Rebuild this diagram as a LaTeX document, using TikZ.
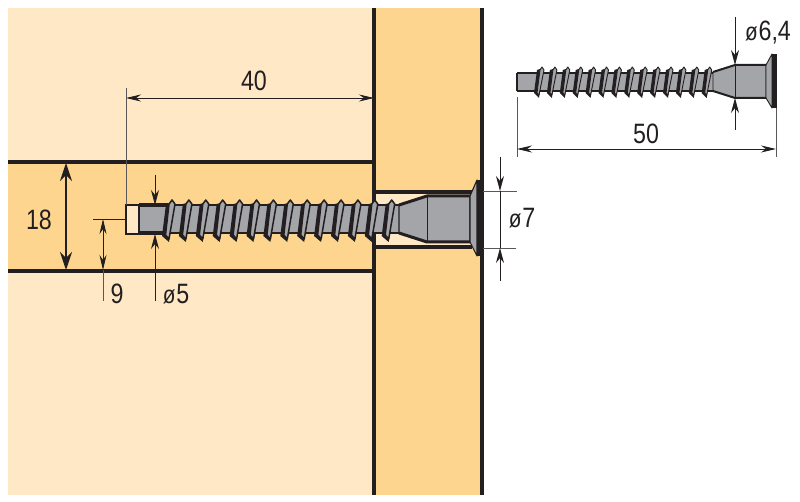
\documentclass[tikz,border=0pt]{standalone}
\usepackage{fontspec}
\setmainfont{Liberation Sans}
\usetikzlibrary{arrows.meta}
\definecolor{lightwood}{HTML}{FEE8C6}
\definecolor{darkwood}{HTML}{FDD58E}
\definecolor{steel}{HTML}{A3A5A9}
\definecolor{ink}{HTML}{231F20}
\newcommand{\smalldia}{{\fontsize{25}{25}\selectfont ø}}
\tikzset{
  x=1pt,y=-1pt,
  wood/.style={draw=ink,line width=3.1pt},
  dimline/.style={draw=ink,line width=0.8pt},
  extline/.style={draw=ink!75,line width=0.8pt},
  dimarrow/.style={dimline,{Stealth[length=15pt,width=7pt]}-{Stealth[length=15pt,width=7pt]}},
  headarrow/.style={dimline,-{Stealth[length=15pt,width=8pt]}},
  bigarrow/.style={draw=ink,line width=1.6pt,{Stealth[length=18pt,width=12pt]}-{Stealth[length=18pt,width=12pt]}},
  label/.style={inner sep=0pt,text=ink,font=\fontsize{28}{28}\selectfont,xscale=.83},
  steelpart/.style={fill=steel,draw=ink,line width=1.1pt,line join=round},
  steelthin/.style={fill=steel,draw=ink,line width=.9pt,line join=round},
  thread/.style={fill=steel,draw=ink,line width=1.5pt,line join=round},
}
\begin{document}
\begin{tikzpicture}
\useasboundingbox (0,0) rectangle (800,502);
% wood panels
\fill[lightwood] (8,8) rectangle (374,495);
\fill[darkwood] (8,162) rectangle (374,271);
\fill[darkwood] (374,8) rectangle (482,495);
\fill[lightwood] (374,192) rectangle (472,247);
\fill[lightwood] (126,205) rectangle (140,234);
\draw[wood] (8,162) -- (374,162);
\draw[wood] (8,271) -- (374,271);
\draw[wood] (374,192) -- (472,192);
\draw[wood] (374,247) -- (472,247);
\draw[wood] (374,8) -- (374,495);
\draw[wood] (482,8) -- (482,495);
\draw[draw=ink,line width=1.5pt] (140,205) -- (126,205) -- (126,234) -- (140,234);
% large screw
\fill[steel] (139,205) rectangle (400,233);
\draw[ink,line width=3.4pt] (139,205) -- (168,205);
\draw[ink,line width=3.4pt] (139,233) -- (165,233);
\draw[ink,line width=1.4pt] (139,205) -- (139,233);
\draw[ink,line width=2pt] (165,205.5) -- (400,205.5);
\draw[ink,line width=2pt] (165,233) -- (400,233);
\foreach \i in {0,...,13}{
  \pgfmathsetmacro{\tx}{172+16.9*\i}
  \begin{scope}[shift={(\tx,0)}]
    \fill[ink] (2,202) -- (-3,242) -- (-10,236) -- (-6,204) -- cycle;
    \draw[thread] (0,200) -- (3,204) -- (-3,239) -- (-6.5,235) -- (-3,204) -- cycle;
  \end{scope}
}
\draw[steelpart] (399,205) -- (427,196) -- (470,196) -- (470,242) -- (427,242) -- (399,233) -- cycle;
\draw[ink,line width=.8pt] (427,196) -- (427,242);
\draw[ink,line width=3pt] (399,205) -- (427,196) -- (470,196);
\draw[ink,line width=3pt] (399,233) -- (427,242) -- (470,242);
\draw[steelpart] (470,196) -- (477,180) -- (477,256) -- (470,242) -- cycle;
\fill[ink] (477,180) rectangle (483,256);
% small screw
\fill[steel] (517,73) rectangle (715,91);
\draw[ink,line width=1.1pt] (517,73) -- (715,73);
\draw[ink,line width=1.1pt] (517,91) -- (715,91);
\draw[ink,line width=1.1pt] (517,73) -- (517,91);
\foreach \i in {0,...,13}{
  \pgfmathsetmacro{\tx}{542+12.9*\i}
  \begin{scope}[shift={(\tx,0)}]
    \fill[ink] (1,68) -- (-3,98) -- (-8,93) -- (-5,70) -- cycle;
    \draw[steelthin] (0,67) -- (2,70) -- (-3,95) -- (-5,93) -- (-2,70) -- cycle;
  \end{scope}
}
\draw[steelthin] (713,72) -- (735,65) -- (766,65) -- (766,98) -- (735,98) -- (713,91) -- cycle;
\draw[ink,line width=2pt] (713,72) -- (735,65) -- (766,65);
\draw[ink,line width=2pt] (713,91) -- (735,98) -- (766,98);
\draw[steelthin] (766,65) -- (772,54) -- (772,108) -- (766,98) -- cycle;
\fill[ink] (772,54) rectangle (776.5,108);
% named dimension points
\coordinate (a40l) at (126,98);
\coordinate (a40r) at (374,98);
\coordinate (e40t) at (126,88);
\coordinate (e40b) at (126,205);
\coordinate (a18t) at (66,163);
\coordinate (a18b) at (66,270);
\coordinate (e9l) at (93,219);
\coordinate (e9r) at (126,219);
\coordinate (a9t) at (103,219);
\coordinate (a9b) at (103,270);
\coordinate (e9e) at (103,301);
\coordinate (a5a) at (155,175);
\coordinate (a5b) at (155,205);
\coordinate (a5c) at (155,301);
\coordinate (a5d) at (155,234);
\coordinate (a7a) at (500,157);
\coordinate (a7b) at (500,191);
\coordinate (a7c) at (500,281);
\coordinate (a7d) at (500,248);
\coordinate (e7a) at (483,191);
\coordinate (e7b) at (517,191);
\coordinate (e7c) at (483,248);
\coordinate (e7d) at (516,248);
\coordinate (a64a) at (735,17);
\coordinate (a64b) at (735,65);
\coordinate (a64c) at (735,130);
\coordinate (a64d) at (735,98);
\coordinate (a50l) at (517,149);
\coordinate (a50r) at (776,149);
\coordinate (e50a) at (517,97);
\coordinate (e50b) at (517,157);
\coordinate (e50c) at (776,108);
\coordinate (e50d) at (776,157);
% dimensions
\draw[extline] (e40t) -- (e40b);
\draw[dimarrow] (a40l) -- (a40r);
\draw[bigarrow] (a18t) -- (a18b);
\draw[dimline] (e9l) -- (e9r);
\draw[dimarrow] (a9t) -- (a9b);
\draw[extline] (a9b) -- (e9e);
\draw[headarrow] (a5a) -- (a5b);
\draw[headarrow] (a5c) -- (a5d);
\draw[extline] (e7a) -- (e7b);
\draw[extline] (e7c) -- (e7d);
\draw[headarrow] (a7a) -- (a7b);
\draw[headarrow] (a7c) -- (a7d);
\draw[dimline] (a7b) -- (a7d);
\draw[headarrow] (a64a) -- (a64b);
\draw[headarrow] (a64c) -- (a64d);
\draw[dimline] (a64b) -- (a64d);
\draw[extline] (e50a) -- (e50b);
\draw[extline] (e50c) -- (e50d);
\draw[dimarrow] (a50l) -- (a50r);
% labels
\node[label] (t40) at (254,81) {40};
\node[label] (t18) at (39,220) {18};
\node[label] (t9) at (117,294) {9};
\node[label] (t5) at (176,294) {\smalldia\kern1pt 5};
\node[label] (t7) at (522,218) {\smalldia\kern1pt 7};
\node[label] (t64) at (768,33) {\smalldia\kern1pt 6,4};
\node[label] (t50) at (646,134) {50};
\end{tikzpicture}
\end{document}
